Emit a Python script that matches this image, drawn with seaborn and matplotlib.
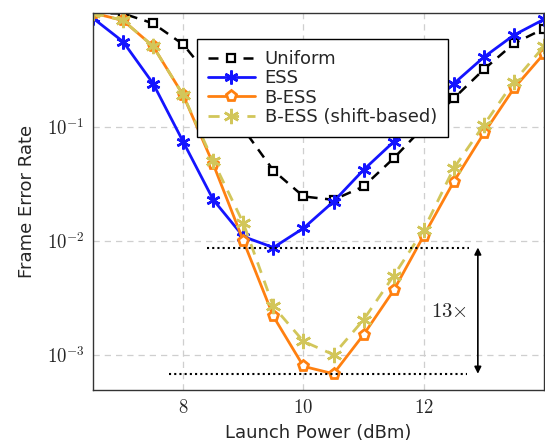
import numpy as np
import pandas as pd
import matplotlib
matplotlib.use("Agg")
import matplotlib.pyplot as plt
import seaborn as sns

power = [6.5, 7.0, 7.5, 8.0, 8.5, 9.0, 9.5, 10.0, 10.5, 11.0, 11.5, 12.0, 12.5, 13.0, 13.5, 14.0]
uniform = [1.0, 0.99, 0.81, 0.53, 0.25, 0.096, 0.0414, 0.0245, 0.0229, 0.030, 0.053, 0.10, 0.178, 0.32, 0.54, 0.73]
ess = [0.90, 0.56, 0.24, 0.074, 0.0229, 0.0109, 0.00873, 0.0129, 0.0221, 0.042, 0.074, 0.135, 0.24, 0.41, 0.64, 0.88]
bess = [1.0, 0.86, 0.51, 0.19, 0.047, 0.0100, 0.00217, 0.00079, 0.00068, 0.0015, 0.00367, 0.0111, 0.0331, 0.088, 0.218, 0.44]
bess_shift = [1.0, 0.86, 0.51, 0.19, 0.050, 0.0143, 0.00265, 0.00131, 0.00100, 0.00203, 0.00493, 0.0125, 0.0434, 0.104, 0.25, 0.51]
series_names = ["Uniform", "ESS", "B-ESS", "B-ESS (shift-based)"]
x_ticks = [8, 10, 12]
y_ticks = [1e-3, 1e-2, 1e-1]
gain_label = r"$13{\times}$"

sns.set_theme(style="white")
plt.rcParams["font.family"] = ["DejaVu Sans"]
plt.rcParams["mathtext.fontset"] = "cm"

fig = plt.figure(figsize=(5.45, 4.47), dpi=100)
ax = fig.add_axes([93/545, 57/447, 451/545, 377/447])

asterisk = (6, 2, 0)
styles = [
    dict(color="black", linestyle=(0, (4, 3)), marker="s", markerfacecolor="white",
         markeredgecolor="black", markersize=6, markeredgewidth=1.6, linewidth=1.8),
    dict(color="#1414ff", linestyle="-", marker=asterisk, markersize=10,
         markeredgewidth=1.8, markeredgecolor="#1414ff", linewidth=2.0),
    dict(color="#ff8010", linestyle="-", marker="p", markerfacecolor="white",
         markeredgecolor="#ff8010", markersize=8, markeredgewidth=2.0, linewidth=2.0),
    dict(color="#d2c65a", linestyle=(0, (4, 3)), marker=asterisk, markersize=11,
         markeredgewidth=1.8, markeredgecolor="#d2c65a", linewidth=2.0),
]
all_y = [uniform, ess, bess, bess_shift]
for name, ys, st in zip(series_names, all_y, styles):
    df = pd.DataFrame({"power": power, "fer": ys})
    sns.lineplot(data=df, x="power", y="fer", ax=ax, label=name, **st)

ax.set_yscale("log")
ax.set_xlim(6.5, 14)
ax.set_ylim(10**-3.31, 1.0)
ax.set_xticks(x_ticks)
ax.set_xticklabels([rf"${t}$" for t in x_ticks], fontsize=13.5)
ax.set_yticks(y_ticks)
ax.set_yticklabels([rf"$10^{{{int(np.log10(t))}}}$" for t in y_ticks], fontsize=13.5)
ax.minorticks_off()
ax.tick_params(axis="both", length=0, pad=6)
ax.grid(True, which="major", linestyle=(0, (5, 4)), color="#cfcfcf", linewidth=0.9)
for s in ax.spines.values():
    s.set_color("#333333")
    s.set_linewidth(1.0)

ax.set_xlabel("Launch Power (dBm)", fontsize=13, labelpad=5)
ax.set_ylabel("Frame Error Rate", fontsize=13, labelpad=8)

# annotations
ess_min = min(ess)
bess_min = min(bess)
ax.hlines(ess_min, 8.4, 12.75, colors="black", linestyles=(0, (1, 1.5)), linewidth=1.5)
ax.hlines(bess_min, 7.77, 12.72, colors="black", linestyles=(0, (1, 1.5)), linewidth=1.5)
ax.annotate("", xy=(12.9, bess_min), xytext=(12.9, ess_min),
            arrowprops=dict(arrowstyle="<|-|>", color="black", lw=1.2,
                            shrinkA=0, shrinkB=0, mutation_scale=10))
ax.text(12.42, 0.00243, gain_label, fontsize=15, ha="center", va="center")

leg = ax.legend(loc="upper left", bbox_to_anchor=(0.2306, 0.931), fontsize=13,
                frameon=True, fancybox=False, framealpha=1, edgecolor="black",
                handlelength=2.6, labelspacing=0.08, borderpad=0.6, handletextpad=0.55,
                borderaxespad=0)
leg.get_frame().set_linewidth(1.0)

fig.savefig("out.png", dpi=100)
